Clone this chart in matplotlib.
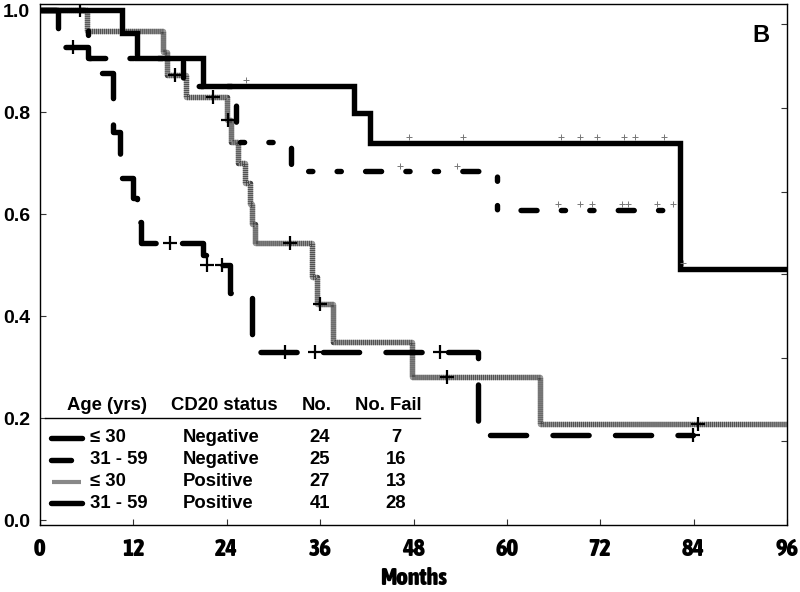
import numpy as np
import matplotlib.pyplot as plt
import matplotlib.transforms as mtransforms
from matplotlib.lines import Line2D
from matplotlib import font_manager

plt.rcParams['lines.scale_dashes'] = False

# --- survival curves (months, survival fraction) ---
# <= 30, CD20 negative
neg_young_t = [0, 10.5, 12.5, 21.0, 40.3, 42.4, 82.2, 96.0]
neg_young_s = [1.0, 0.955, 0.906, 0.851, 0.798, 0.740, 0.493, 0.493]
neg_young_tick_t = [26.5, 47.4, 54.4, 66.9, 69.4, 71.6, 75.0, 76.5, 80.2, 82.6]
neg_young_tick_s = [0.851, 0.74, 0.74, 0.74, 0.74, 0.74, 0.74, 0.74, 0.74, 0.493]

# 31 - 59, CD20 negative
neg_old_t = [0, 6.2, 18.4, 25.2, 32.3, 58.7, 81.5]
neg_old_s = [1.0, 0.906, 0.851, 0.742, 0.684, 0.608, 0.608]
neg_old_tick_t = [46.3, 53.6, 66.6, 69.4, 71.0, 74.8, 75.6, 79.3, 81.4]
neg_old_tick_s = [0.684, 0.684, 0.608, 0.608, 0.608, 0.608, 0.608, 0.608, 0.608]

# <= 30, CD20 positive
pos_young_t = [0, 6.0, 15.8, 16.3, 18.7, 24.0, 24.5, 25.5, 26.3, 27.0, 27.3,
               27.6, 35.0, 35.6, 37.7, 47.8, 64.3, 96.0]
pos_young_s = [1.0, 0.959, 0.917, 0.873, 0.83, 0.785, 0.741, 0.70, 0.66, 0.62,
               0.58, 0.544, 0.477, 0.423, 0.350, 0.280, 0.188, 0.188]
pos_young_cens_t = [5.2, 17.4, 22.2, 24.2, 32.1, 36.0, 52.3, 84.6]
pos_young_cens_s = [1.0, 0.873, 0.83, 0.785, 0.544, 0.423, 0.280, 0.188]

# 31 - 59, CD20 positive
pos_old_t = [0, 2.3, 6.2, 7.5, 9.4, 10.3, 12.0, 12.5, 13.0, 20.9, 21.3, 24.4,
             27.2, 56.3, 83.9]
pos_old_s = [1.0, 0.927, 0.906, 0.877, 0.76, 0.671, 0.632, 0.585, 0.544, 0.52,
             0.50, 0.446, 0.329, 0.166, 0.166]
pos_old_cens_t = [4.2, 16.7, 21.5, 23.4, 31.5, 35.3, 51.4, 83.9]
pos_old_cens_s = [0.927, 0.544, 0.50, 0.50, 0.329, 0.329, 0.329, 0.166]

# legend table
age_labels = ['≤ 30', '31 - 59', '≤ 30', '31 - 59']
cd20_labels = ['Negative', 'Negative', 'Positive', 'Positive']
n_total = [24, 25, 27, 41]
n_fail = [7, 16, 13, 28]

x_ticks = [0, 12, 24, 36, 48, 60, 72, 84, 96]
y_ticks = [0.0, 0.2, 0.4, 0.6, 0.8, 1.0]
right_ticks = [0.155, 0.318, 0.482, 0.643, 0.808, 0.973]

plt.rcParams['font.family'] = ['Liberation Sans', 'DejaVu Sans']


def find_narrow_bold():
    # look for a condensed / narrow bold face for the x axis texts
    best = None
    for f in font_manager.fontManager.ttflist:
        w = f.weight if isinstance(f.weight, int) else (700 if 'bold' in str(f.weight) else 400)
        if w < 600:
            continue
        if 'Narrow' in f.name or 'Condensed' in f.name:
            return f.fname
        if str(f.stretch) in ('condensed', 'semi-condensed', 'extra-condensed') and best is None:
            best = f.fname
    return best


narrow_file = find_narrow_bold()
if narrow_file:
    narrow_fp = font_manager.FontProperties(fname=narrow_file, size=17.5)
else:
    narrow_fp = font_manager.FontProperties(family='Liberation Sans', weight='bold', size=14)

W, H = 800, 592
fig = plt.figure(figsize=(8, 5.92), dpi=100)
ax = fig.add_axes([40 / W, 1 - 525 / H, 747 / W, 521 / H])
ax.set_xlim(0, 96)
ax.set_ylim(-0.0098, 1.0118)

lw = 3.9
# solid
ax.step(neg_young_t, neg_young_s, where='post', color='black', lw=lw,
        solid_capstyle='butt', solid_joinstyle='miter', zorder=5)
# medium dash
ax.step(neg_old_t, neg_old_s, where='post', color='black', lw=lw,
        dashes=(11.5, 17.5, 3.0, 17.5, 3.0, 17.5), dash_capstyle='round', zorder=4)
# grey hatched
ax.step(pos_young_t, pos_young_s, where='post', color='#9a9a9a', lw=lw,
        solid_capstyle='butt', zorder=3)
ax.step(pos_young_t, pos_young_s, where='post', color='#444444', lw=lw,
        dashes=(0.6, 0.85), dash_capstyle='butt', zorder=3)
# long dash
ax.step(pos_old_t, pos_old_s, where='post', color='black', lw=lw,
        dashes=(26, 19), dash_capstyle='round', zorder=4)

ax.plot(pos_young_cens_t, pos_young_cens_s, ls='none', marker='+', ms=10,
        mew=1.6, color='black', zorder=6)
ax.plot(pos_old_cens_t, pos_old_cens_s, ls='none', marker='+', ms=10,
        mew=1.6, color='black', zorder=6)

# tiny grey censor marks sitting just above the negative curves
up = ax.transData + mtransforms.ScaledTranslation(0, 4 / 72, fig.dpi_scale_trans)
ax.plot(neg_young_tick_t, neg_young_tick_s, ls='none', marker='+', ms=5,
        mew=0.7, color='#777777', transform=up, zorder=6)
ax.plot(neg_old_tick_t, neg_old_tick_s, ls='none', marker='+', ms=5,
        mew=0.7, color='#777777', transform=up, zorder=6)

for s in ax.spines.values():
    s.set_color('#333333')
    s.set_linewidth(1.0)

ax.set_xticks(x_ticks)
ax.set_yticks(y_ticks)
ax.set_yticklabels(['%.1f' % v for v in y_ticks], fontsize=14, fontweight='bold')
ax.set_xticklabels([str(v) for v in x_ticks])
for lbl in ax.get_xticklabels():
    lbl.set_fontproperties(narrow_fp)
ax.tick_params(axis='both', direction='in', length=4, width=0.8, color='#333333')
ax.tick_params(axis='y', pad=7)
ax.tick_params(axis='x', pad=9)
ax.set_xlabel('Months', fontproperties=narrow_fp, labelpad=5)

twin = ax.twinx()
twin.set_ylim(ax.get_ylim())
twin.set_yticks(right_ticks)
twin.set_yticklabels([])
twin.tick_params(axis='y', direction='in', length=4, width=0.8, color='#333333')

fig.text(761 / W, 1 - 35 / H, 'B', fontsize=17, fontweight='bold',
         ha='center', va='center')


# legend table
def fx(px):
    return px / W


def fy(py):
    return 1 - py / H


fs = 13.3
hdr_y = 406
fig.text(fx(107), fy(hdr_y), 'Age (yrs)', fontsize=fs, fontweight='bold', ha='center', va='center')
fig.text(fx(224), fy(hdr_y), 'CD20 status', fontsize=fs, fontweight='bold', ha='center', va='center')
fig.text(fx(317), fy(hdr_y), 'No.', fontsize=fs, fontweight='bold', ha='center', va='center')
fig.text(fx(388), fy(hdr_y), 'No. Fail', fontsize=fs, fontweight='bold', ha='center', va='center')
fig.add_artist(Line2D([fx(45), fx(420)], [fy(418), fy(418)], color='black', lw=1.0))

row_y = [438, 460, 482, 503]
samples = [
    dict(x=(51, 82), color='black', solid_capstyle='round'),
    dict(x=(51, 71), color='black', solid_capstyle='round'),
    dict(x=(52, 81), color='#888888', solid_capstyle='butt'),
    dict(x=(51, 82), color='black', solid_capstyle='round'),
]
for i, yy in enumerate(row_y):
    smp = samples[i]
    fig.add_artist(Line2D([fx(smp['x'][0]), fx(smp['x'][1])], [fy(yy), fy(yy)],
                          color=smp['color'], lw=lw if i != 2 else 3.0,
                          solid_capstyle=smp['solid_capstyle']))
    fig.text(fx(90), fy(yy), age_labels[i], fontsize=fs, fontweight='bold', ha='left', va='center')
    fig.text(fx(183), fy(yy), cd20_labels[i], fontsize=fs, fontweight='bold', ha='left', va='center')
    fig.text(fx(320), fy(yy), str(n_total[i]), fontsize=fs, fontweight='bold', ha='center', va='center')
    fig.text(fx(396), fy(yy), str(n_fail[i]), fontsize=fs, fontweight='bold', ha='center', va='center')

fig.savefig('out.png', dpi=100)
